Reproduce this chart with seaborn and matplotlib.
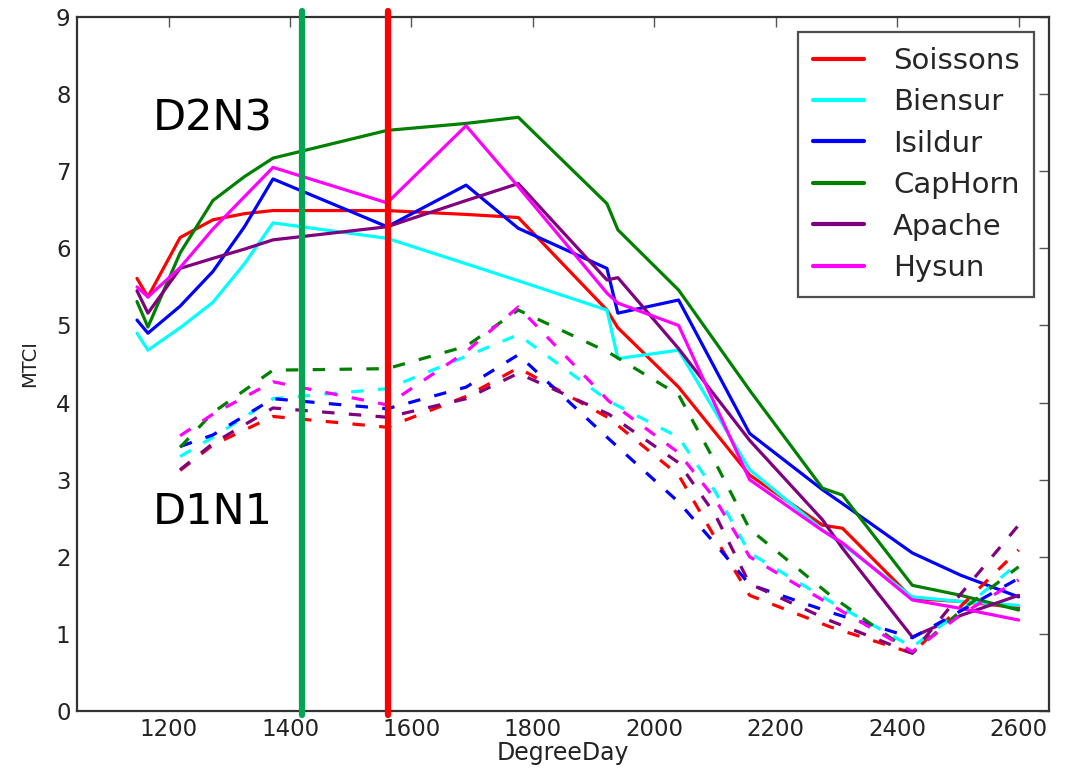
import numpy as np
import pandas as pd
import matplotlib
matplotlib.use("Agg")
import matplotlib.pyplot as plt
import seaborn as sns
from matplotlib.lines import Line2D

varieties = ["Soissons", "Biensur", "Isildur", "CapHorn", "Apache", "Hysun"]
colors = ["#ff0000", "#00ffff", "#0000ff", "#008000", "#800080", "#ff00ff"]

# D2N3 (solid)
x_d2n3 = [1148, 1166, 1219, 1273, 1325, 1372, 1560, 1690, 1776, 1922, 1940, 2040, 2157, 2277, 2310, 2425, 2505, 2600]
soissons_d2n3 = [5.61, 5.37, 6.14, 6.37, 6.45, 6.49, 6.49, 6.44, 6.40, 5.20, 4.97, 4.20, 3.06, 2.41, 2.37, 1.46, 1.42, 1.34]
biensur_d2n3 = [4.90, 4.68, 4.97, 5.30, 5.80, 6.33, 6.13, 5.80, 5.58, 5.20, 4.57, 4.68, 3.13, 2.35, 2.16, 1.48, 1.42, 1.37]
isildur_d2n3 = [5.07, 4.90, 5.25, 5.70, 6.28, 6.90, 6.28, 6.82, 6.26, 5.74, 5.16, 5.33, 3.60, 2.87, 2.69, 2.05, 1.76, 1.48]
caphorn_d2n3 = [5.31, 4.98, 5.94, 6.62, 6.93, 7.17, 7.53, 7.62, 7.70, 6.58, 6.24, 5.46, 4.16, 2.89, 2.80, 1.63, 1.50, 1.31]
apache_d2n3 = [5.45, 5.16, 5.74, 5.87, 5.99, 6.11, 6.28, 6.62, 6.84, 5.59, 5.62, 4.70, 3.51, 2.48, 2.11, 0.96, 1.24, 1.50]
hysun_d2n3 = [5.50, 5.37, 5.75, 6.25, 6.67, 7.05, 6.59, 7.59, 6.80, 5.42, 5.29, 5.00, 3.00, 2.34, 2.18, 1.44, 1.33, 1.18]

# D1N1 (dashed)
x_d1n1 = [1219, 1273, 1372, 1560, 1690, 1776, 1925, 2040, 2100, 2157, 2290, 2425, 2505, 2600]
soissons_d1n1 = [3.12, 3.45, 3.82, 3.68, 4.08, 4.45, 3.80, 3.06, 2.25, 1.50, 1.09, 0.75, 1.36, 2.09]
biensur_d1n1 = [3.30, 3.55, 4.05, 4.18, 4.60, 4.88, 4.02, 3.55, 2.85, 2.05, 1.42, 0.83, 1.30, 1.92]
isildur_d1n1 = [3.43, 3.58, 4.05, 3.92, 4.20, 4.62, 3.53, 2.71, 2.17, 1.64, 1.28, 0.95, 1.30, 1.72]
caphorn_d1n1 = [3.42, 3.87, 4.42, 4.44, 4.73, 5.20, 4.65, 4.10, 3.23, 2.36, 1.50, 0.75, 1.30, 1.87]
apache_d1n1 = [3.13, 3.47, 3.93, 3.81, 4.05, 4.38, 3.85, 3.22, 2.55, 1.65, 1.17, 0.75, 1.52, 2.41]
hysun_d1n1 = [3.57, 3.85, 4.27, 3.97, 4.66, 5.24, 4.02, 3.35, 2.75, 2.00, 1.38, 0.77, 1.25, 1.70]

vlines = [1420, 1562]
vline_colors = ["#00a651", "#ff0000"]

d2n3 = [soissons_d2n3, biensur_d2n3, isildur_d2n3, caphorn_d2n3, apache_d2n3, hysun_d2n3]
d1n1 = [soissons_d1n1, biensur_d1n1, isildur_d1n1, caphorn_d1n1, apache_d1n1, hysun_d1n1]

rows = []
for v, vals in zip(varieties, d2n3):
    for x, y in zip(x_d2n3, vals):
        rows.append((v, "D2N3", x, y))
df_solid = pd.DataFrame(rows, columns=["variety", "treatment", "DegreeDay", "MTCI"])
rows = []
for v, vals in zip(varieties, d1n1):
    for x, y in zip(x_d1n1, vals):
        rows.append((v, "D1N1", x, y))
df_dash = pd.DataFrame(rows, columns=["variety", "treatment", "DegreeDay", "MTCI"])

sns.set_theme(style="white")
plt.rcParams["font.family"] = ["DejaVu Sans"]

fig = plt.figure(figsize=(10.66, 7.70), dpi=100)
ax = fig.add_axes([0.0727, 0.0766, 0.9113, 0.9013])

pal = dict(zip(varieties, colors))
sns.lineplot(data=df_solid, x="DegreeDay", y="MTCI", hue="variety", palette=pal,
             estimator=None, sort=False, linewidth=2.3, legend=False, ax=ax)
sns.lineplot(data=df_dash, x="DegreeDay", y="MTCI", hue="variety", palette=pal,
             estimator=None, sort=False, linewidth=2.3, legend=False, ax=ax,
             dashes=False)
for ln in ax.lines[len(varieties):]:
    ln.set_dashes((3.9, 4.5))

for xv, c in zip(vlines, vline_colors):
    ax.axvline(xv, ymin=-0.006, ymax=1.008, color=c, linewidth=4.5, clip_on=False, zorder=5)

ax.text(1273, 7.69, "D2N3", fontsize=31, ha="center", va="center", color="black")
ax.text(1273, 2.58, "D1N1", fontsize=31, ha="center", va="center", color="black")

ax.set_xlim(1050, 2650)
ax.set_ylim(0, 9)
ax.set_xticks([1200, 1400, 1600, 1800, 2000, 2200, 2400, 2600])
ax.set_yticks(range(0, 10))
ax.tick_params(direction="in", length=7.5, width=1, color="#555555", top=True, right=True,
               labelsize=16.5, labelcolor="#222222", pad=5)
for s in ax.spines.values():
    s.set_color("#333333")
    s.set_linewidth(1.6)
ax.set_xlabel("DegreeDay", fontsize=17, color="#222222", labelpad=0)
ax.set_ylabel("MTCI", fontsize=14, color="#222222", labelpad=12)

handles = [Line2D([0], [0], color=c, lw=3) for c in colors]
leg = ax.legend(handles, varieties, loc="upper right", bbox_to_anchor=(0.985, 0.978),
                fontsize=21, frameon=True, fancybox=False, handlelength=1.75,
                handletextpad=1.0, labelspacing=0.46, borderpad=0.5, borderaxespad=0)
leg.get_frame().set_edgecolor("#222222")
leg.get_frame().set_linewidth(1.6)

fig.savefig("out.png", dpi=100)
